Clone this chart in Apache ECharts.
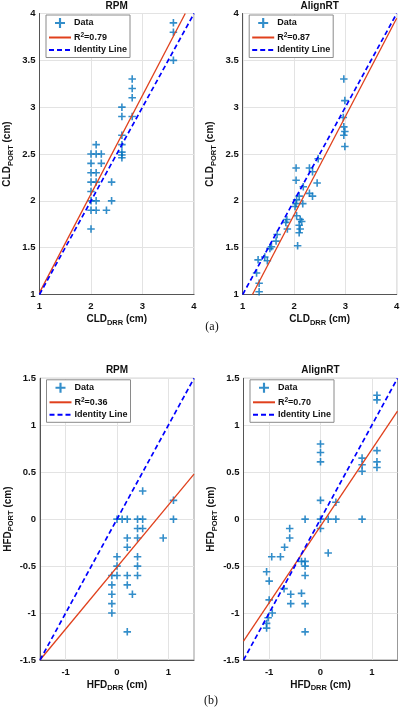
<!DOCTYPE html>
<html><head><meta charset="utf-8">
<script src="https://cdn.jsdelivr.net/npm/echarts@6/dist/echarts.min.js"></script>
<style>html,body{margin:0;padding:0;background:#fff}#c{width:403px;height:709px}</style>
</head><body><div id="c"></div>
<script>
// ---- Data ----
const panelTitles = ['RPM', 'AlignRT', 'RPM', 'AlignRT'];
const r2Labels = ['R2=0.79', 'R2=0.87', 'R2=0.36', 'R2=0.70'];

const rpmCldDrr  = [3.6,3.6,3.6, 2.8,2.8,2.8,2.8, 2.6,2.6,2.6,2.6,2.6,2.6,2.6, 2.1,2.0,2.1,2.2, 2.0,2.2, 2.0,2.1, 2.0,2.1,2.4, 2.0, 2.0,2.1,2.4, 2.0,2.1,2.3, 2.0];
const rpmCldPort = [3.9,3.8,3.5, 3.3,3.2,3.1,2.9, 3.0,2.9,2.7,2.6,2.52,2.49,2.46, 2.6,2.5,2.5,2.5, 2.4,2.4, 2.3,2.3, 2.2,2.2,2.2, 2.1, 2.0,2.0,2.0, 1.9,1.9,1.9, 1.7];

const artCldDrr  = [2.97,2.99,2.96,2.97,2.99,2.97,2.99, 2.47,2.04,2.30,2.36,2.04,2.45,2.18,2.30,2.36,2.10,2.05,2.04,2.17,2.02, 1.86,1.84,1.87,2.05,2.12,2.15,2.10,2.12,2.10,2.07, 1.67,1.65,1.56,1.53,1.43,1.48,1.30,1.27,1.32,1.32];
const artCldPort = [3.30,3.07,2.89,2.79,2.74,2.70,2.58, 2.45,2.35,2.35,2.31,2.22,2.19,2.15,2.08,2.05,2.05,2.01,1.97,1.97,1.94, 1.80,1.77,1.70,1.84,1.80,1.78,1.74,1.70,1.66,1.52, 1.64,1.57,1.51,1.49,1.40,1.36,1.37,1.23,1.12,1.03];

const rpmHfdDrr  = [0.5,1.1,1.1,0,0.1,0.2,0.4,0.5,0.4,0.5,0.2,0.4,0.9,0.2,0,0.4,0,0.4,-0.1,0,0.2,0.4,-0.1,0.2,-0.1,0.3,-0.1,-0.1,0.2];
const rpmHfdPort = [0.3,0.2,0,0,0,0,0,0,-0.1,-0.1,-0.2,-0.2,-0.2,-0.3,-0.4,-0.4,-0.5,-0.5,-0.6,-0.6,-0.6,-0.6,-0.7,-0.7,-0.8,-0.8,-0.9,-1.0,-1.2];

const artHfdDrr  = [1.1,1.1,1.1,1.1,1.1,0.81,0.81,0.81,0.81,0,0,0,0,0.3,-0.3,0,0.15,0.3,-0.6,0,-0.6,-0.7,-0.95,-0.78,0.15,-0.37,-0.3,-0.3,-0.3,-1.05,-1.0,-0.71,-0.58,-0.37,-1.0,-0.58,-0.3,-0.94,-1.02,-1.05,-1.05,-0.3];
const artHfdPort = [1.32,1.27,0.73,0.61,0.55,0.65,0.58,0.51,0,0.8,0.71,0.61,0.2,0.18,0,0,0,0,-0.1,-0.1,-0.2,-0.3,-0.4,-0.4,-0.36,-0.45,-0.45,-0.5,-0.6,-0.56,-0.66,-0.74,-0.8,-0.79,-0.86,-0.9,-0.9,-1.0,-1.05,-1.11,-1.16,-1.2];

// fitted regression line end points
const fitRpmCld = [[1, 1.02], [3.83, 4]];
const fitArtCld = [[1.19, 1], [4, 3.95]];
const fitRpmHfd = [[-1.5, -1.5], [1.5, 0.48]];
const fitArtHfd = [[-1.5, -1.3], [1.5, 1.15]];
const identityCld = [[1, 1], [4, 4]];
const identityHfd = [[-1.5, -1.5], [1.5, 1.5]];

const cldXTicks = [1, 2, 3, 4];
const hfdXTicks = [-1, 0, 1];
const cldTicks = {min: 1, max: 4, xTicks: cldXTicks, yInterval: 0.5};
const hfdTicks = {min: -1.5, max: 1.5, xTicks: hfdXTicks, yInterval: 0.5};

// ---- Chart ----
const panels = [
  {x: rpmCldDrr, y: rpmCldPort, fit: fitRpmCld, id: identityCld, t: cldTicks, v: 'CLD'},
  {x: artCldDrr, y: artCldPort, fit: fitArtCld, id: identityCld, t: cldTicks, v: 'CLD'},
  {x: rpmHfdDrr, y: rpmHfdPort, fit: fitRpmHfd, id: identityHfd, t: hfdTicks, v: 'HFD'},
  {x: artHfdDrr, y: artHfdPort, fit: fitArtHfd, id: identityHfd, t: hfdTicks, v: 'HFD'}
];
const grids = [
  {left: 39.5, top: 13.5, width: 154.5, height: 281},
  {left: 242.7, top: 13.5, width: 154, height: 281},
  {left: 40, top: 378.3, width: 154, height: 281.7},
  {left: 243.5, top: 378.3, width: 154, height: 281.7}
];
const FONT = "'Liberation Sans', Arial, sans-serif";
const PLUS = 'path://M-1.5,-7H1.5V-1.5H7V1.5H1.5V7H-1.5V1.5H-7V-1.5H-1.5Z';
const nameRich = {
  m: {fontSize: 10, fontWeight: 'bold', fontFamily: FONT, color: '#111'},
  s: {fontSize: 7.5, fontWeight: 'bold', fontFamily: FONT, color: '#111', padding: [6, 0, 0, 0]}
};

const xAxes = [], yAxes = [], series = [], legends = [];
panels.forEach((p, i) => {
  xAxes.push({
    gridIndex: i, type: 'value', min: p.t.min, max: p.t.max, interval: 0.5,
    axisLine: {show: true, onZero: false, lineStyle: {color: '#555', width: 1}},
    axisTick: {show: false, customValues: p.t.xTicks},
    splitLine: {show: true, lineStyle: {color: '#e3e3e3', width: 1}},
    axisLabel: {
      fontSize: 9.5, fontWeight: 'bold', fontFamily: FONT, color: '#111', margin: 7,
      customValues: p.t.xTicks
    },
    name: '{m|' + p.v + '}{s|DRR}{m| (cm)}',
    nameLocation: 'middle', nameGap: 18,
    nameTextStyle: {rich: nameRich}
  });
  yAxes.push({
    gridIndex: i, type: 'value', min: p.t.min, max: p.t.max, interval: p.t.yInterval,
    axisLine: {show: true, onZero: false, lineStyle: {color: '#555', width: 1}},
    axisTick: {show: false},
    splitLine: {show: true, lineStyle: {color: '#e3e3e3', width: 1}},
    axisLabel: {fontSize: 9.5, fontWeight: 'bold', fontFamily: FONT, color: '#111', margin: 4},
    name: '{m|' + p.v + '}{s|PORT}{m| (cm)}',
    nameLocation: 'middle', nameRotate: 90, nameGap: 25,
    nameTextStyle: {rich: nameRich}
  });
  series.push({
    type: 'scatter', name: 'Data', xAxisIndex: i, yAxisIndex: i,
    symbol: PLUS, symbolSize: 7.5, symbolKeepAspect: true,
    itemStyle: {color: '#0072BD'},
    data: p.x.map((xv, k) => [xv, p.y[k]]), z: 2
  });
  series.push({
    type: 'line', name: r2Labels[i], xAxisIndex: i, yAxisIndex: i,
    symbol: 'none', showSymbol: false, clip: true,
    lineStyle: {color: '#E0401C', width: 1.3}, itemStyle: {color: '#E0401C'},
    data: p.fit, z: 3
  });
  series.push({
    type: 'line', name: 'Identity Line', xAxisIndex: i, yAxisIndex: i,
    symbol: 'none', showSymbol: false, clip: true,
    lineStyle: {color: '#0000FF', width: 1.7, type: [5, 3]}, itemStyle: {color: '#0000FF'},
    data: p.id, z: 4
  });
  const hideSym = {opacity: 0, color: 'transparent', borderWidth: 0};
  legends.push({
    left: grids[i].left + 6.5, top: grids[i].top + 1.5,
    orient: 'vertical', padding: [3, 3, 3, 2], itemGap: 3.5,
    itemWidth: 22, itemHeight: 10,
    backgroundColor: '#fff', borderColor: '#8a8a8a', borderWidth: 1,
    selectedMode: false,
    data: [
      {name: 'Data'},
      {name: r2Labels[i], itemStyle: hideSym},
      {name: 'Identity Line', itemStyle: hideSym}
    ],
    formatter: n => n.startsWith('R2') ? 'R{sup|2}' + n.slice(2) : n,
    textStyle: {
      fontSize: 9, fontWeight: 'bold', fontFamily: FONT, color: '#111', padding: [0, 0, 0, -2],
      rich: {sup: {fontSize: 6.5, fontWeight: 'bold', fontFamily: FONT, color: '#111', padding: [0, 0, 5, 0]}}
    }
  });
});

const gridsOpt = grids.map(g => Object.assign({show: true, borderColor: '#999', borderWidth: 1, backgroundColor: '#fff', containLabel: false}, g));

const titleStyle = t => ({text: t, fill: '#111', font: "bold 10px " + FONT, align: 'center', verticalAlign: 'middle'});
const graphic = [
  {type: 'text', x: 116.7, y: 6.3, style: titleStyle(panelTitles[0])},
  {type: 'text', x: 319.7, y: 6.3, style: titleStyle(panelTitles[1])},
  {type: 'text', x: 117, y: 370.7, style: titleStyle(panelTitles[2])},
  {type: 'text', x: 320.5, y: 370.7, style: titleStyle(panelTitles[3])},
  {type: 'text', x: 212, y: 327, style: {text: '(a)', fill: '#111', font: "12px 'Liberation Serif', 'Times New Roman', serif", align: 'center', verticalAlign: 'middle'}},
  {type: 'text', x: 211, y: 701, style: {text: '(b)', fill: '#111', font: "12px 'Liberation Serif', 'Times New Roman', serif", align: 'center', verticalAlign: 'middle'}}
];

const chart = echarts.init(document.getElementById('c'), null, {renderer: 'canvas'});
chart.setOption({
  animation: false,
  backgroundColor: '#fff',
  grid: gridsOpt,
  xAxis: xAxes,
  yAxis: yAxes,
  legend: legends,
  series: series,
  graphic: graphic
});
</script></body></html>
